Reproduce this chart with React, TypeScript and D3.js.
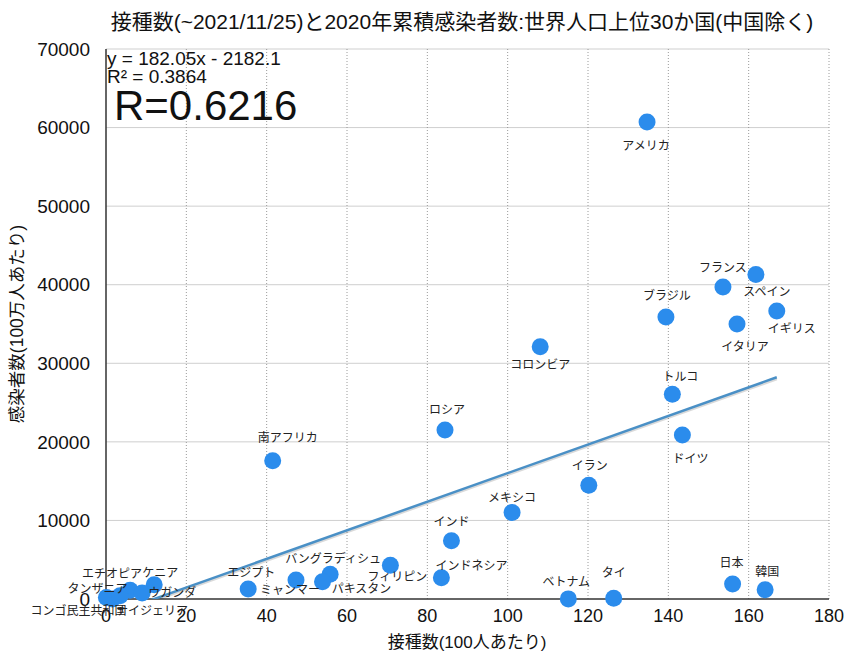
import React from "react";
import * as d3 from "d3";

// 接種数(100人あたり) / 2020年累積感染者数(100万人あたり)
const countries = [
  "アメリカ", "スペイン", "フランス", "イギリス", "イタリア", "ブラジル",
  "トルコ", "ドイツ", "コロンビア", "ロシア", "イラン", "メキシコ",
  "インド", "インドネシア", "フィリピン", "ベトナム", "タイ", "日本",
  "韓国", "南アフリカ", "エジプト", "ミャンマー", "バングラディシュ", "パキスタン",
  "エチオピア", "ケニア", "タンザニア", "ウガンダ", "コンゴ民主共和国", "ナイジェリア",
];
const vaccinations = [
  134.7, 161.8, 153.6, 167.0, 157.1, 139.4,
  141.0, 143.5, 108.1, 84.4, 120.2, 101.1,
  86.0, 83.5, 70.8, 115.1, 126.4, 156.0,
  164.1, 41.5, 35.4, 47.3, 55.8, 53.9,
  6.0, 12.0, 1.6, 9.0, 0.1, 3.5,
];
const infections = [
  60700, 41300, 39700, 36650, 35000, 35900,
  26050, 20870, 32100, 21500, 14470, 11000,
  7420, 2710, 4290, 15, 90, 1900,
  1190, 17600, 1270, 2420, 3140, 2200,
  1100, 1800, 10, 760, 200, 420,
];

const xTicks = [0, 20, 40, 60, 80, 100, 120, 140, 160, 180];
const yTicks = [0, 10000, 20000, 30000, 40000, 50000, 60000, 70000];

const slope = 182.05;
const intercept = -2182.1;

// label placement relative to the dot (px)
const labelOffsets: [number, number][] = [
  [-1, 24], [11, 17], [0, -19], [15, 18], [8, 23], [1, -21],
  [8, -18], [8, 24], [0, 18], [2, -20], [1, -20], [0, -15],
  [0, -19], [30, -12], [7, 12], [-2, -17], [0, -25], [-1, -21],
  [2, -18], [15, -23], [3, -16], [-6, 10], [3, -16], [39, 7],
  [-18, -17], [6, -12], [-15, -10], [30, 0], [-28, 13], [32, 15],
];

const WIDTH = 852;
const HEIGHT = 656;
const FONT = "'Liberation Sans', 'Noto Sans CJK JP', sans-serif";
const DOT = "#2b8cec";

export default function App() {
  const x = d3.scaleLinear().domain([0, 180]).range([106, 829]);
  const y = d3.scaleLinear().domain([0, 70000]).range([599, 49]);

  const xMin = d3.min(vaccinations) as number;
  const xMax = d3.max(vaccinations) as number;
  const trend = d3
    .line<number>()
    .x((v) => x(v))
    .y((v) => y(slope * v + intercept));
  const trendPath = trend([xMin, xMax]) || "";

  return (
    <svg
      width={WIDTH}
      height={HEIGHT}
      style={{ position: "absolute", left: 0, top: 0, background: "#fff" }}
      fontFamily={FONT}
    >
      <defs>
        <clipPath id="plot">
          <rect x={106} y={49} width={723} height={550} />
        </clipPath>
      </defs>

      <text x={462} y={29} fontSize={21} textAnchor="middle" fill="#111">
        接種数(~2021/11/25)と2020年累積感染者数:世界人口上位30か国(中国除く)
      </text>

      {/* grid */}
      {yTicks.slice(1).map((t) => (
        <line key={"gy" + t} x1={106} x2={829} y1={y(t)} y2={y(t)} stroke="#cfcfcf" strokeWidth={1} />
      ))}
      {xTicks.slice(1).map((t) => (
        <line key={"gx" + t} x1={x(t)} x2={x(t)} y1={49} y2={599} stroke="#9a9a9a" strokeWidth={1} strokeDasharray="1,2" />
      ))}

      {/* axes */}
      <line x1={106} x2={106} y1={49} y2={599} stroke="#333" strokeWidth={1.5} />
      <line x1={106} x2={829} y1={599} y2={599} stroke="#333" strokeWidth={1.5} />

      {yTicks.map((t) => (
        <text key={"ty" + t} x={90} y={y(t)} dy="0.35em" fontSize={19} textAnchor="end" fill="#111">
          {t}
        </text>
      ))}
      {xTicks.map((t) => (
        <text key={"tx" + t} x={x(t)} y={622} fontSize={18} textAnchor="middle" fill="#111">
          {t}
        </text>
      ))}

      <text x={467} y={648} fontSize={17} textAnchor="middle" fill="#111">
        接種数(100人あたり)
      </text>
      <text transform="translate(23,324) rotate(-90)" fontSize={17.5} textAnchor="middle" fill="#111">
        感染者数(100万人あたり)
      </text>

      {/* trend line */}
      <g clipPath="url(#plot)">
        <path d={trendPath} transform="translate(0,1.5)" stroke="#000" strokeOpacity={0.15} strokeWidth={3} fill="none" />
        <path d={trendPath} stroke="#4a90c6" strokeWidth={2.5} fill="none" />
      </g>

      {/* points */}
      {vaccinations.map((v, i) => (
        <circle key={"c" + i} cx={x(v)} cy={y(infections[i])} r={8.5} fill={DOT} />
      ))}
      {countries.map((c, i) => (
        <text
          key={"l" + i}
          x={x(vaccinations[i]) + labelOffsets[i][0]}
          y={y(infections[i]) + labelOffsets[i][1]}
          dy="0.35em"
          fontSize={12}
          textAnchor="middle"
          fill="#222"
        >
          {c}
        </text>
      ))}

      <text x={107} y={65} fontSize={19} fill="#111">y = 182.05x - 2182.1</text>
      <text x={107} y={83} fontSize={19} fill="#111">R² = 0.3864</text>
      <text x={114} y={120} fontSize={42} fill="#111">R=0.6216</text>
    </svg>
  );
}
